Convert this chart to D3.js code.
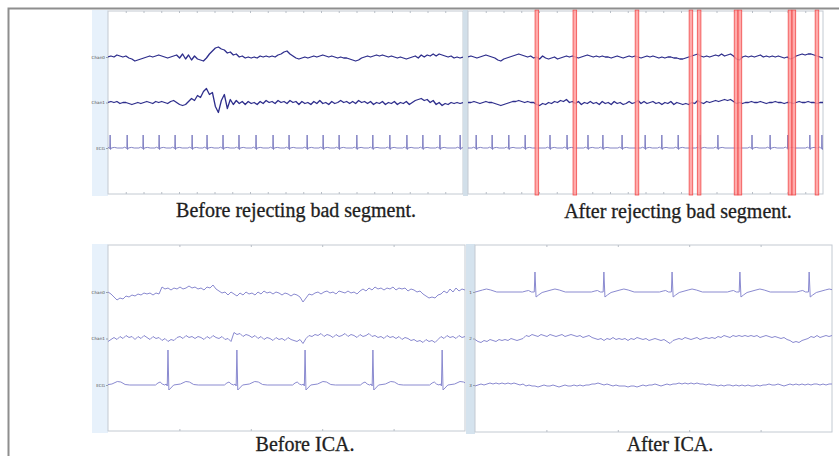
<!DOCTYPE html>
<html><head><meta charset="utf-8">
<script src="https://cdn.jsdelivr.net/npm/d3@7/dist/d3.min.js"></script>
<style>html,body{margin:0;padding:0;background:#fff;}svg{display:block;}</style>
</head><body>
<script>
// ---------------- DATA ----------------
const topChannels = ["Chan0", "Chan1", "ECG"];
const icaChannels = ["1", "2", "3"];
const panelTitles = ["Before rejecting bad segment.", "After rejecting bad segment.", "Before ICA.", "After ICA."];
const topTicks = [5,10,15,20,25,30,35,40,45,50,55,60,65,70,75,80,85,90,95];
const bottomTicks = [20,40,60,80];

const topLeftChan0 = [0,1,0,2,1,0,1,-1,-2,-4, -3,-2,-1,0,1,0,1,2,1,0, -1,0,1,2,-1,3,-2,2,-3,1,
  -2,-3,-4,-1,3,6,9,10,8,7, 4,5,2,3,0,1,-1,0,-1,0, -1,1,0,1,0,1,0,2,3,5,
  6,3,1,-1,-2,-1,0,-1,0,1, 0,1,2,1,0,1,0,-1,0,-1, -1,-2,-3,-4,-3,-1,0,1,0,1,
  2,1,2,1,0,1,0,-1,0,-1, -2,-1,0,1,-1,2,0,2,1,3, 1,3,2,1,0,1,-1,0,-1,0];
const topLeftChan1 = [0,1,0,1,-1,0,0,-1,-2,-1, 0,-1,0,1,0,-1,1,0,1,0, -1,1,2,0,-2,-3,-2,1,4,2,
  7,5,11,14,8,10,-4,-10,2,8, -6,3,-2,2,-1,1,-2,1,-1,0, -2,1,-1,2,0,1,-1,2,0,1,
  -1,2,0,1,-2,1,-1,0,-2,1, -1,2,-1,0,-2,1,-1,0,2,0, 1,-1,1,-1,2,0,1,-1,1,-2,
  0,-1,1,-2,0,-1,1,-2,0,-1, 1,-2,0,2,3,4,2,3,0,2, -2,0,-3,-1,-2,0,-1,0,-1,0];
const topRightChan0 = [0,1,0,-1,0,1,2,1,0,-1, -3,-4,-2,-1,0,1,2,3,2,1, 0,1,-1,0,-2,1,-1,-2,-1,0,
  -2,-1,0,1,0,1,0,-1,0,1, 2,1,0,1,0,1,0,0,-1,0, 1,0,-1,0,1,0,1,0,-1,0,
  1,0,1,0,-1,0,-1,0,0,-1, -1,-2,-2,-1,0,1,2,3,1,0, 1,0,1,2,1,3,1,2,3,1,
  -2,-3,0,1,0,1,0,1,2,0, 1,0,1,0,1,0,-1,0,-2,-1, 1,2,3,2,3,3,2,1,0,-1];
const topRightChan1 = [0,0,1,0,-1,0,1,0,0,-1, -2,-3,-2,-1,0,1,1,2,1,0, 1,0,0,-2,-3,-1,-2,0,-1,1,
  0,2,1,3,0,1,-1,1,-2,0, -1,1,-1,0,-2,1,-1,0,-2,1, -1,0,-2,-1,1,-1,0,2,-1,1,
  -1,0,1,-1,0,-2,0,-1,1,-2, 0,-1,-2,-1,-2,0,-1,2,0,-1, 1,0,1,2,1,2,3,2,3,1,
  -1,0,-1,0,0,1,0,0,1,0, -1,0,0,1,0,0,-1,0,0,-1, 0,1,0,0,1,0,0,-1,0,0];
const bottomLeftChan0 = [0,-2,-5,-8,-6,-7,-4,-5,-3,-4, -2,-3,-1,-2,-1,-3,-1,-2,5,3, 4,2,4,3,5,3,4,6,4,5,
  3,4,2,5,4,7,3,1,-1,0, -3,0,-2,-4,-1,-3,0,-2,-1,-3, 0,-2,1,-1,0,-2,0,-1,-3,-1,
  -2,-4,-2,-3,-5,-10,-6,-2,-3,-1, 0,-2,0,1,-1,0,-2,1,0,-1, 1,-1,0,-2,1,3,1,4,2,5,
  3,4,2,4,3,5,2,4,3,4, 1,3,2,0,1,-2,-4,-6,-5,-6, -3,-2,1,-1,3,0,4,1,3,2];
const bottomLeftChan1 = [-3,-1,1,-1,2,0,3,1,2,-1, 2,0,3,1,-1,2,0,1,-2,0, -3,-1,-2,1,2,0,3,1,2,0,
  2,1,-1,2,0,3,1,0,2,-1, 0,-3,6,4,5,2,4,3,1,3, 0,2,-1,1,0,-2,1,-1,0,-2,
  1,-1,-2,-3,-1,-5,0,3,2,4, 3,5,2,4,3,1,4,2,3,5, 2,4,3,1,4,2,3,5,2,3,
  1,2,0,3,1,2,0,2,-1,1, 0,-2,-1,-3,-2,-4,-1,-3,-2,-4, -1,2,0,3,1,2,0,3,1,2];
const bottomRightIC2 = [-1,-3,-4,-2,-3,-1,-2,-3,-1,-2, -1,-2,0,-1,-2,-1,0,3,2,4, 3,2,4,3,2,4,3,2,3,4,
  2,3,4,3,2,3,1,2,3,1, 0,-1,0,-2,0,-1,1,-1,0,-1, 0,-2,0,-1,1,0,-1,0,-2,-1,
  0,-1,-2,-1,-3,-5,-2,-1,0,-1, 1,0,-1,0,1,-1,0,1,0,1, 0,2,1,3,2,1,3,2,3,2,
  3,2,3,2,3,1,2,3,2,1, 2,1,0,1,-1,-2,-4,-3,-4,-2, -1,0,2,1,3,1,2,3,2,3];
const bottomRightIC3 = [-1,0,1,0,1,2,1,2,1,2, 1,2,1,2,1,0,1,-1,0,-1, -1,-2,-1,0,-1,-1,0,-1,-2,-1,
  0,-1,-1,0,-1,0,-1,0,0,1, 1,2,1,0,1,0,-1,0,-1,-1, -1,-2,-1,-1,-2,-1,0,-1,0,0,
  1,0,-1,0,1,0,1,1,2,1, 2,1,2,1,2,1,1,0,1,0, 0,-1,0,-1,0,0,-1,0,-1,0,
  -1,0,-1,-1,0,-1,0,0,1,0, 0,1,0,-1,0,1,0,1,0,1, 0,1,0,1,1,0,1,0,1,1];

// heartbeat times (percent of window)
const topLeftBeats = [0.6,5.4,9.9,14.4,18.9,23.7,27.9,32.4,36.9,41.7,46.5,51.0,56.1,60.6,65.1,70.1,74.6,79.4,84.2,88.7,93.5,99.2];
const topRightBeats = [2.3,6.8,11.5,16.1,23.1,27.9,33.8,38.0,43.4,49.9,54.6,59.2,65.4,70.4,80.0,85.1,90.1,96.3,99.7];
const bottomBeats = [-2.4,16.8,36.1,55.2,74.2,93.6];
// rejected-segment boundaries (percent of window)
const rejectMarks = [19.4,30.1,47.6,62.8,65.1,75.5,76.6,90.7,91.8,98.3];

// beat shapes: time offset / amplitude
const smallBeatT = [-1.2,-0.7,-0.3,-0.1,0,0.12,0.3,1.2,2.0];
const smallBeatV = [0,0.8,0,-0.5,13,-1.5,0,0.6,0];
const rawBeatT = [-3.5,-2.8,-2.2,-1.6,-0.9,-0.5,-0.2,0,0.25,0.8,1.6,3.5,5.0,6.0,7.2,8.5];
const rawBeatV = [0,2,3,1,0,1,-1,35,-5,-3,0,1,3.5,3,0.5,0];
const icaBeatT = [-3.5,-2.5,-1.8,-1,-0.2,0,0.3,1.0,2.0,4.5,5.6,6.8,8.5];
const icaBeatV = [0,1,1.5,0,0,20,-5,-3,-0.5,2,3,2,0];

// ---------------- DRAW ----------------
const W = 839, H = 456;
const svg = d3.select("body").append("svg").attr("width", W).attr("height", H)
  .style("background", "#fff");

const defs = svg.append("defs");

function ecgPoints(beats, tt, vv) {
  const pts = [[-5, 0], [105, 0]];
  beats.forEach(b => tt.forEach((dt, k) => pts.push([b + dt, vv[k]])));
  pts.sort((a, b) => a[0] - b[0]);
  return pts;
}
function seriesPoints(arr) {
  const n = arr.length;
  return arr.map((v, i) => [i * 100 / (n - 1), v]);
}

const panels = [
  { id: "p0", x0: 108, x1: 463, y0: 11, y1: 194, strip: [92, 108, 10, 196], stripColor: "#e7f1fb",
    yRange: [57, 148], channels: topChannels, labels: true, ticks: topTicks,
    traces: [
      { ch: "Chan0", pts: seriesPoints(topLeftChan0), color: "#2e2e8c", w: 1.3 },
      { ch: "Chan1", pts: seriesPoints(topLeftChan1), color: "#2e2e8c", w: 1.3 },
      { ch: "ECG", pts: ecgPoints(topLeftBeats, smallBeatT, smallBeatV), color: "#7676bd", w: 0.9 }
    ], title: panelTitles[0], tx: 296, ty: 217 },
  { id: "p1", x0: 468, x1: 823, y0: 11, y1: 194, strip: [463, 468, 10, 196], stripColor: "#d2dfe9",
    yRange: [57, 148], channels: topChannels, labels: false, ticks: topTicks, marks: rejectMarks,
    traces: [
      { ch: "Chan0", pts: seriesPoints(topRightChan0), color: "#2e2e8c", w: 1.3 },
      { ch: "Chan1", pts: seriesPoints(topRightChan1), color: "#2e2e8c", w: 1.3 },
      { ch: "ECG", pts: ecgPoints(topRightBeats, smallBeatT, smallBeatV), color: "#7676bd", w: 0.9 }
    ], title: panelTitles[1], tx: 678, ty: 218 },
  { id: "p2", x0: 108, x1: 465, y0: 245, y1: 431, strip: [92, 108, 244, 433], stripColor: "#e7f1fb",
    yRange: [292, 385], channels: topChannels, labels: true, ticks: bottomTicks,
    traces: [
      { ch: "Chan0", pts: seriesPoints(bottomLeftChan0), color: "#8a8ad0", w: 1.0 },
      { ch: "Chan1", pts: seriesPoints(bottomLeftChan1), color: "#8a8ad0", w: 1.0 },
      { ch: "ECG", pts: ecgPoints(bottomBeats, rawBeatT, rawBeatV), color: "#8a8ad0", w: 1.0 }
    ], title: panelTitles[2], tx: 305, ty: 451 },
  { id: "p3", x0: 475, x1: 832, y0: 245, y1: 432, strip: [466, 475, 244, 434], stripColor: "#d5e3ee",
    yRange: [292, 385], channels: icaChannels, labels: true, ticks: bottomTicks,
    traces: [
      { ch: "1", pts: ecgPoints(bottomBeats, icaBeatT, icaBeatV), color: "#8a8ad0", w: 1.0 },
      { ch: "2", pts: seriesPoints(bottomRightIC2), color: "#8a8ad0", w: 1.0 },
      { ch: "3", pts: seriesPoints(bottomRightIC3), color: "#8a8ad0", w: 1.0 }
    ], title: panelTitles[3], tx: 670, ty: 451 }
];

panels.forEach(p => {
  const x = d3.scaleLinear().domain([0, 100]).range([p.x0, p.x1]);
  const yc = d3.scalePoint().domain(p.channels).range(p.yRange);
  const amp = d3.scaleLinear().domain([-20, 20]).range([20, -20]);
  const g = svg.append("g");

  g.append("rect").attr("x", p.strip[0]).attr("y", p.strip[2])
    .attr("width", p.strip[1] - p.strip[0]).attr("height", p.strip[3] - p.strip[2])
    .attr("fill", p.stripColor);

  g.append("rect").attr("x", p.x0).attr("y", p.y0)
    .attr("width", p.x1 - p.x0).attr("height", p.y1 - p.y0)
    .attr("fill", "#fff").attr("stroke", "#c3cad2").attr("stroke-width", 1);

  const tTop = d3.axisBottom(x).tickValues(p.ticks).tickSize(2).tickFormat("");
  const tBot = d3.axisTop(x).tickValues(p.ticks).tickSize(2).tickFormat("");
  const ga = g.append("g").attr("transform", `translate(0,${p.y0})`).call(tTop);
  const gb = g.append("g").attr("transform", `translate(0,${p.y1})`).call(tBot);
  [ga, gb].forEach(s => { s.select(".domain").remove(); s.selectAll("line").attr("stroke", "#b8bec6"); });

  const ax = d3.axisLeft(yc).tickSize(p.labels ? 2 : 0).tickPadding(1);
  const gl = g.append("g").attr("transform", `translate(${p.x0},0)`).call(ax);
  gl.select(".domain").remove();
  gl.selectAll("line").attr("stroke", "#9aa0a8");
  gl.selectAll("text").attr("font-size", 4.2).attr("font-family", "DejaVu Sans")
    .attr("fill", "#555").style("display", p.labels ? null : "none");

  defs.append("clipPath").attr("id", "clip-" + p.id).append("rect")
    .attr("x", p.x0).attr("y", p.y0).attr("width", p.x1 - p.x0).attr("height", p.y1 - p.y0);
  const inner = g.append("g").attr("clip-path", `url(#clip-${p.id})`);

  p.traces.forEach(tr => {
    const line = d3.line().x(d => x(d[0])).y(d => yc(tr.ch) + amp(d[1]));
    inner.append("path").attr("d", line(tr.pts)).attr("fill", "none")
      .attr("stroke", tr.color).attr("stroke-width", tr.w).attr("stroke-linejoin", "round");
  });

  if (p.marks) {
    g.selectAll(null).data(p.marks).enter().append("rect")
      .attr("x", d => x(d) - 1.8).attr("y", p.y0 - 1)
      .attr("width", 3.6).attr("height", p.y1 - p.y0 + 2)
      .attr("fill", "#ff9c9c").attr("fill-opacity", 0.85)
      .attr("stroke", "#f04a4a").attr("stroke-width", 0.8);
  }

  svg.append("text").attr("x", p.tx).attr("y", p.ty).attr("text-anchor", "middle")
    .attr("font-family", "Liberation Serif").attr("font-size", 20).attr("fill", "#1e1e1e")
    .attr("stroke", "#1e1e1e").attr("stroke-width", 0.3)
    .text(p.title);
});

svg.append("path").attr("d", "M8.5,456 V8.5 H839").attr("fill", "none")
  .attr("stroke", "#8e8e8e").attr("stroke-width", 2);
</script>
</body></html>
